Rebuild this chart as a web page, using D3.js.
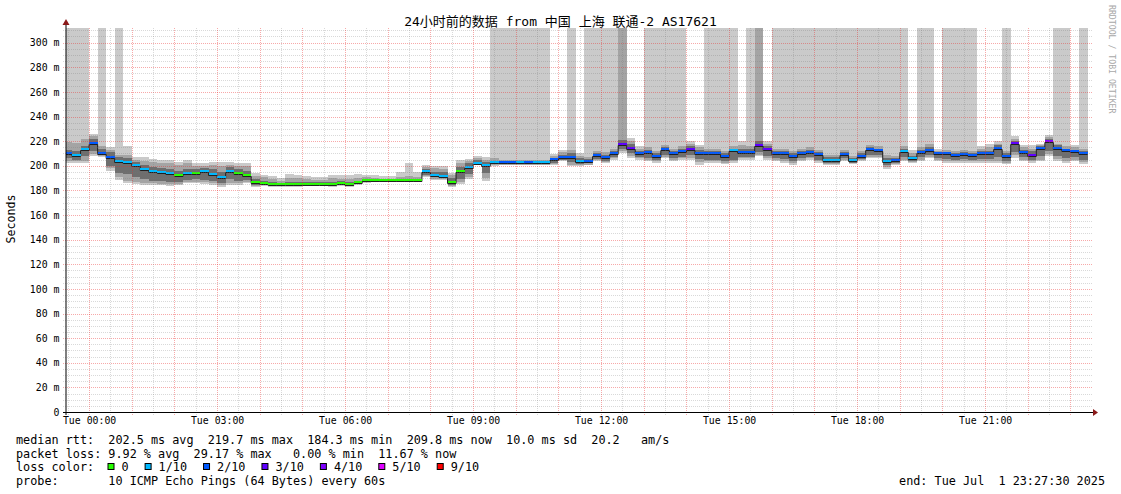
<!DOCTYPE html>
<html><head><meta charset="utf-8">
<script src="https://cdn.jsdelivr.net/npm/d3@7"></script>
<style>
body{margin:0;background:#fff;}
svg{display:block;}
text{font-family:"DejaVu Sans Mono","Noto Sans CJK SC",monospace;}
</style>
</head><body>
<svg id="chart" width="1121" height="494"></svg>
<script>
// ---------------- DATA ----------------
const title = "24小时前的数据 from 中国 上海 联通-2 AS17621";
const yLabel = "Seconds";
const watermark = "RRDTOOL / TOBI OETIKER";
const startTime = Date.UTC(2025, 5, 30, 23, 27, 30);
const endTime = Date.UTC(2025, 6, 1, 23, 27, 30);
const binZero = Date.UTC(2025, 6, 1, 0, 0, 0);   // Tue 00:00
const binMinutes = 12;
const firstBin = -3;                              // first bin index relative to Tue 00:00
const T = 400;                                    // smoke clipped above chart top

// median rtt (ms) per 12-minute bin, k = -3 .. 117
const median = [209.5,208.0,212.8,
 217.5,209.8,206.5,203.3,202.2,200.0,196.8,195.2,194.1,193.1,
 191.4,193.3,193.3,194.9,192.6,190.2,195.2,193.7,191.5,185.6,
 185.0,184.6,184.6,184.6,184.6,184.6,184.6,184.6,184.6,185.3,
 184.3,186.0,187.3,187.3,187.3,187.3,187.3,187.3,187.3,194.6,
 191.9,191.0,186.4,194.9,198.0,201.7,199.9,202.2,202.2,202.2,
 202.2,202.2,202.2,202.2,204.5,206.7,206.3,203.2,203.3,207.6,
 206.0,209.6,216.7,213.7,209.8,210.3,206.9,212.6,209.6,211.0,
 212.6,209.6,209.6,209.6,206.8,212.1,210.7,210.7,215.9,212.5,
 209.6,209.6,206.8,209.8,210.6,208.4,204.0,204.0,208.6,203.6,
 207.3,212.5,211.9,203.4,203.8,211.3,205.5,210.7,212.3,209.2,
 209.2,207.6,209.0,207.9,209.4,209.4,213.6,206.9,217.4,210.6,
 208.3,213.6,219.7,214.0,211.8,210.9,209.8,null];

// lost pings out of 10 per bin
const loss = [2,1,1,
 2,2,2,1,1,1,1,1,1,1,
 0,1,0,1,1,1,1,0,0,0,
 0,0,0,0,0,0,0,0,0,0,
 0,0,0,0,0,0,0,0,0,1,
 1,1,0,0,1,1,1,1,2,2,
 1,2,1,1,2,2,2,1,2,2,
 2,2,3,3,2,2,2,2,2,2,
 3,2,2,2,2,1,2,2,3,3,
 2,2,2,2,2,2,1,1,2,1,
 2,2,2,1,2,1,1,2,2,2,
 2,2,2,2,2,2,2,2,3,2,
 3,2,4,2,2,2,2,null];

// smoke: outer band (fastest / slowest ping)
const smokeLo1 = [202,202,202,
 208,207,196,188.5,186.3,185,184.4,184.4,184.4,183.6,
 184.4,185.8,185.8,185.2,184.4,183,184.4,184.4,185.8,183,
 183.6,183,183,183,183,183.6,183.6,183.6,183,183.6,
 183,184.4,186,186.5,186.5,186.5,186.5,186.5,186.5,190.6,
 188.7,188.7,182.5,185.2,189.5,200.9,187.3,199.5,200.3,200.3,
 200.3,200.3,200.3,200.3,200.3,203.6,199.5,199.5,200.3,203.6,
 202.2,204.9,210.3,206.3,204.9,203.6,202.2,206.3,203.6,204.9,
 204.9,200.9,202.2,202.2,201.4,202.2,204.9,204.9,207.6,204.9,
 203.6,202.2,200.9,203.6,204.9,202.2,200.9,200.9,203.6,201.4,
 203.6,206.3,206.3,197.6,200.9,203.6,202.2,203.6,206.3,203.6,
 202.2,202.2,202.2,202.2,202.2,202.2,202.2,201.4,206.3,203.6,
 202.2,203.6,207.6,203.6,202.2,203.6,201.4,null];
const smokeHi1 = [T,T,T,
 226,T,215,T,216,207.4,206.9,205.3,204.7,204.7,
 203,204.7,202.6,202,203,203,203,202.6,202.6,194.4,
 192.8,191.7,189.8,193.3,192.8,191.7,190.6,190.6,192.5,192.5,
 192.5,193.3,192.7,192.2,191.4,191.4,194.9,202.5,194.9,200.9,
 199.5,199.5,194.1,204.6,205.7,207.6,206.8,T,T,T,
 T,T,T,T,209.5,213,T,210.3,T,T,
 T,T,T,222.5,215.7,T,T,T,T,T,
 219.8,217,T,T,T,T,219.8,T,T,220.3,
 T,T,T,T,T,T,T,T,T,T,
 T,T,T,T,T,T,213,T,T,213.8,
 T,T,T,T,215.7,217.6,219.8,T,223.8,217,
 217,218,224.7,T,T,217,T,null];
// smoke: second band
const smokeLo2 = [204,203.5,204,
 209.5,208,198,191,188,187,186,186,185.5,185,
 185.5,187,187,186.5,186,184.5,186,186,187,183.5,
 184,183.5,183.5,183.5,183.5,183.8,183.8,183.8,183.5,184,
 183.3,185,186.5,187,187,187,187,187,187,191.5,
 189.5,189.5,183.5,187,191,201,190,200.5,201,201,
 201,201,201,201,201.5,204.5,201,200.5,201,204.5,
 203,206,212,208,206,205,203.5,207.5,205,206,
 206.5,203,203.5,203.5,202.5,203.5,206,206,209,206,
 205,203.5,202,205,206,203.5,201.5,201.5,205,202,
 204.5,207.5,207.5,199,201.5,205,203,205,207.5,204.5,
 203.5,203.5,203.5,203.5,203.5,203.5,204,202.5,208.5,205,
 203.5,205,209.5,205.5,204,205,203,null];
const smokeHi2 = [219,218.5,222,
 224,216,213,209,209,205,204,203,202,202,
 201,202,200,200,201,200,201,200,200,192,
 191,189,188,190,190,189,188.5,188.5,190,189.5,
 189,190,190.5,190,189.5,189.5,191,192,191,199,
 198,197.5,192.5,202,204,206.5,205,206,205,205,
 205,205,205,205,208,211,213,208,207,212,
 211,214,T,220,214,215,212,217,214,216,
 218,215,214,214,212,216,217,216,T,218,
 214,214,212,214,215,213,209,209,213,208,
 212,217,216,209,208,216,210,215,218,212,
 213,212,213,212,213.5,215,218,212,222,215,
 214,217,223,218,216,215,214,null];
// smoke: inner core
const smokeLo3 = [206,205,208,
 212,209,200,194,193,191,189,188,187.5,187,
 187,188.5,189,188.5,188,186,189,188,188.5,184,
 184,184,183.8,184,184,184,184,184,184,184.5,
 183.5,185.3,187,187.2,187.2,187.2,187.2,187.2,187.2,192.5,
 190.5,190,184.5,189.5,193.5,201.2,194,201.5,201.5,201.5,
 201.5,201.5,201.5,201.5,202.5,205,203,201.5,202,205.5,
 204,207,213.5,210,207,206.5,204.5,209,206.5,207.5,
 208.5,205.5,205,205,203.5,205,207.5,207.5,211,208,
 206.5,205.5,203.5,206.5,207.5,205,202.5,202.5,206,202.5,
 205.5,209,209,200.5,202.5,207,204,207,209,206,
 205.5,204.5,205.5,205,205.5,205.5,207,203.5,211,207,
 205,208,212,208,206.5,207,205,null];
const smokeHi3 = [213,212,216,
 222,214,211,207,206,203,201,199,198,197,
 196,197,197,198,197,195,199,197,196,189,
 188,187,186,187,187,186.5,186.5,186.5,187,187.5,
 186.5,188,189,189,188.5,188.5,189,189.5,189,197,
 195,195,190,199,202,205,203,204,203.5,203.5,
 203.5,203.5,203.5,203.5,206.5,209,210,206,205.5,210,
 209,212,221,218,212,213,210,215,212,214,
 216,213,212,212,210,214,214,214,220,216,
 212,212,210,212,213,211,207,207,211,206,
 210,215,214,206,206,214,208,213,215,211,
 211,210,211,210,212,212,216.5,210,220,213,
 212,216,221.5,216.5,214,213,212,null];

const lossLegend = ["0","1/10","2/10","3/10","4/10","5/10","9/10"];
const lossLegendColors = ["#26ff00","#00b8ff","#0059ff","#5e00ff","#7e00ff","#dd00ff","#ff0000"];
const legendLines = [
  "median rtt:  202.5 ms avg  219.7 ms max  184.3 ms min  209.8 ms now  10.0 ms sd  20.2   am/s",
  "packet loss: 9.92 % avg  29.17 % max   0.00 % min  11.67 % now"
];
const probeLine = "probe:       10 ICMP Echo Pings (64 Bytes) every 60s";
const endLine = "end: Tue Jul  1 23:27:30 2025";
const yMax = 311.9;

// ---------------- DRAW ----------------
const svg = d3.select("#chart");
const L = 66, R = 1090, TOP = 28, B = 412;
const x = d3.scaleUtc().domain([startTime, endTime]).range([L, R]);
const y = d3.scaleLinear().domain([0, yMax]).range([B, TOP]);

svg.append("rect").attr("width",1121).attr("height",494).attr("fill","#fff");
svg.append("defs").append("clipPath").attr("id","plot")
  .append("rect").attr("x",L).attr("y",TOP).attr("width",R-L).attr("height",B-TOP);

const bins = median.map((m,i)=>{
  const s = binZero + (firstBin+i)*binMinutes*60000;
  return {s, e: s + binMinutes*60000, med:m, loss:loss[i],
    lo1:smokeLo1[i], hi1:smokeHi1[i], lo2:smokeLo2[i], hi2:smokeHi2[i], lo3:smokeLo3[i], hi3:smokeHi3[i]};
}).filter(d=>d.med!=null);

const plot = svg.append("g").attr("clip-path","url(#plot)");
const layers = [["lo1","hi1","#cacaca"],["lo2","hi2","#a4a4a4"],["lo3","hi3","#6e6e6e"]];
layers.forEach(([lo,hi,c])=>{
  plot.append("g").selectAll("rect").data(bins).join("rect")
    .attr("x",d=>x(d.s)).attr("width",d=>x(d.e)-x(d.s))
    .attr("y",d=>y(d[hi])).attr("height",d=>y(d[lo])-y(d[hi]))
    .attr("fill",c).attr("shape-rendering","crispEdges");
});

// median step line
const pts = [];
bins.forEach(d=>{pts.push([x(d.s), y(d.med)]); pts.push([x(d.e), y(d.med)]);});
plot.append("path").attr("d", d3.line()(pts.map(p=>[p[0], Math.round(p[1])+0.5])))
  .attr("fill","none").attr("stroke","#202020").attr("stroke-width",1);

function lossColor(n){
  if(n>=9) return lossLegendColors[6];
  if(n>=5) return lossLegendColors[5];
  return lossLegendColors[n];
}
plot.append("g").selectAll("rect").data(bins).join("rect")
  .attr("x",d=>x(d.s)).attr("width",d=>x(d.e)-x(d.s))
  .attr("y",d=>Math.round(y(d.med))-2).attr("height",2)
  .attr("fill",d=>lossColor(d.loss)).attr("shape-rendering","crispEdges");

// grid
const grid = svg.append("g").attr("shape-rendering","crispEdges");
const yMinor = d3.range(5, yMax, 5);
grid.selectAll("line.hy").data(yMinor).join("line")
  .attr("x1",L-3).attr("x2",R+3)
  .attr("y1",d=>Math.round(y(d))+0.5).attr("y2",d=>Math.round(y(d))+0.5)
  .attr("stroke",d=>d%20===0?"rgba(235,40,40,0.4)":"rgba(120,120,120,0.28)")
  .attr("stroke-dasharray","1,1");
const xMinor = x.ticks(d3.utcMinute.every(30));
grid.selectAll("line.vx").data(xMinor).join("line")
  .attr("x1",d=>Math.round(x(d))+0.5).attr("x2",d=>Math.round(x(d))+0.5)
  .attr("y1",TOP).attr("y2",B+3)
  .attr("stroke",d=>d.getUTCMinutes()===0?"rgba(235,40,40,0.4)":"rgba(120,120,120,0.28)")
  .attr("stroke-dasharray","1,1");

// axes
const xAxis = d3.axisBottom(x).tickValues(x.ticks(d3.utcHour.every(3)))
  .tickFormat(d3.utcFormat("%a %H:%M")).tickSize(0).tickPadding(5.5);
const gx = svg.append("g").attr("transform",`translate(0,${B})`).call(xAxis);
gx.select(".domain").remove();
gx.selectAll("text").attr("font-size","9.85px").attr("fill","#000")
  .attr("font-family","DejaVu Sans Mono");

const yAxis = d3.axisLeft(y).tickValues(d3.range(0, yMax, 20))
  .tickFormat(d=>d===0?"0":`${d} m`).tickSize(0).tickPadding(6.5);
const gy = svg.append("g").attr("transform",`translate(${L},0)`).call(yAxis);
gy.select(".domain").remove();
gy.selectAll("text").attr("font-size","9.85px").attr("fill","#000")
  .attr("font-family","DejaVu Sans Mono");

svg.append("line").attr("x1",L-3).attr("x2",R+3).attr("y1",B+0.5).attr("y2",B+0.5)
  .attr("stroke","#000").attr("stroke-width",1);
svg.append("line").attr("x1",L).attr("x2",L).attr("y1",B+3).attr("y2",TOP-4)
  .attr("stroke","#000").attr("stroke-width",1);
svg.append("path").attr("d",`M${L-3.5},${TOP-3}L${L},${TOP-9}L${L+3.5},${TOP-3}Z`).attr("fill","#8b1a1a");
svg.append("path").attr("d",`M${R+3},${B-3}L${R+8},${B+0.5}L${R+3},${B+4}Z`).attr("fill","#8b1a1a");

// texts
svg.append("text").attr("x",560.5).attr("y",26).attr("text-anchor","middle")
  .attr("font-size","13px").attr("fill","#000").text(title);
svg.append("text").attr("transform","translate(14.5,219) rotate(-90)")
  .attr("text-anchor","middle").attr("font-size","11.6px").attr("fill","#000").text(yLabel);
svg.append("text").attr("transform","translate(1109,5) rotate(90)")
  .attr("font-size","8.2px").attr("fill","#a8a8a8").text(watermark);

const legendY = [444, 457.5, 471, 484.5];
legendLines.forEach((t,i)=>{
  svg.append("text").attr("x",16).attr("y",legendY[i]).attr("font-size","11.8px")
    .attr("fill","#000").attr("xml:space","preserve").style("white-space","pre").text(t);
});
svg.append("text").attr("x",16).attr("y",legendY[2]).attr("font-size","11.8px")
  .attr("fill","#000").text("loss color:");
let bx = 108;
lossLegend.forEach((lab,i)=>{
  svg.append("rect").attr("x",bx).attr("y",463.5).attr("width",6).attr("height",6)
    .attr("fill",lossLegendColors[i]).attr("stroke","#000").attr("stroke-width",1);
  const t = svg.append("text").attr("x",bx+13.5).attr("y",legendY[2]).attr("font-size","11.8px")
    .attr("fill","#000").text(lab);
  bx = bx + 13.5 + t.node().getComputedTextLength() + 16.5;
});
svg.append("text").attr("x",16).attr("y",legendY[3]).attr("font-size","11.8px")
  .attr("fill","#000").attr("xml:space","preserve").style("white-space","pre").text(probeLine);
svg.append("text").attr("x",1105).attr("y",legendY[3]).attr("text-anchor","end").attr("font-size","11.8px")
  .attr("fill","#000").attr("xml:space","preserve").style("white-space","pre").text(endLine);
</script>
</body></html>
